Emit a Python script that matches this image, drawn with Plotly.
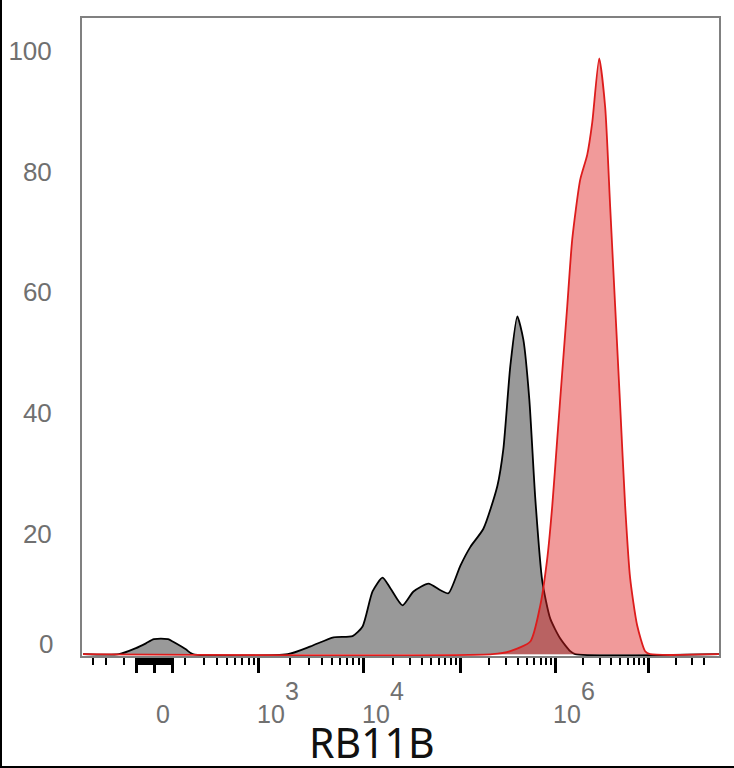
import numpy as np
import plotly.graph_objects as go

# histogram data, x in display channels of the biexponential scale, y in % of max
GRAY_X = [0, 36, 53, 63, 71, 85, 93, 103, 110,
          205, 228, 251, 270, 280, 290, 300, 308, 320, 331, 346, 358, 366,
          378, 388, 401, 415, 421, 428, 435, 441, 447, 453, 460, 468, 478,
          488, 493, 637]
GRAY_Y = [0, 0, 1.0, 1.8, 2.5, 2.5, 1.8, 0.8, 0,
          0, 1.3, 2.8, 3.0, 4.6, 10.4, 12.7, 10.9, 8.1, 10.4, 11.7, 10.6, 10.1,
          14.7, 17.8, 20.8, 27.9, 34.0, 47.8, 56.0, 52.2, 42.3, 25.8, 12.1, 5.9, 2.6,
          0.5, 0, 0]

RED_X = [0, 410, 428, 448, 458, 465, 470, 475, 480, 485, 490, 498, 505, 510,
         517, 523, 528, 533, 538, 543, 548, 555, 563, 568, 637]
RED_Y = [0, 0, 0.5, 2.1, 8.1, 15.9, 24.6, 35.7, 46.8, 57.7, 68.8, 78.7, 82.8, 88.1,
         98.8, 90.7, 74.2, 57.7, 41.2, 24.6, 12.6, 4.8, 0.5, 0, 0]

# axis scale
ZERO_POS = 72
DECADE_EXP = [3, 4, 5, 6, 7]
DECADE_POS = [176, 281, 378, 473, 566]
LABELED_EXP = [3, 4, 6]
Y_TICKS = [20, 40, 60, 80, 100]
X_TITLE = "RB11B"


def minor_ticks():
    """log spaced minor ticks between decades plus the linear cluster at zero."""
    ticks = []
    first_w = DECADE_POS[1] - DECADE_POS[0]
    for m in range(2, 10):
        ticks.append(DECADE_POS[0] - (1 - np.log10(m)) * first_w)
    for k in range(len(DECADE_POS) - 1):
        w = DECADE_POS[k + 1] - DECADE_POS[k]
        for m in range(2, 10):
            ticks.append(DECADE_POS[k] + np.log10(m) * w)
    last_w = DECADE_POS[-1] - DECADE_POS[-2]
    for m in range(2, 5):
        ticks.append(DECADE_POS[-1] + np.log10(m) * last_w)
    # negative side, mirrored
    for m in range(2, 5):
        p = DECADE_POS[0] - (1 - np.log10(m)) * first_w
        ticks.append(2 * ZERO_POS - p)
    # linear region around zero
    for v in range(-90, 91, 10):
        ticks.append(ZERO_POS + v * 0.18)
    return ticks


major_ticks = DECADE_POS + [ZERO_POS - 18, ZERO_POS, ZERO_POS + 18]

fig = go.Figure()

fig.add_trace(go.Scatter(
    x=GRAY_X, y=GRAY_Y, mode='lines', fill='tozeroy',
    fillcolor='#999999',
    line=dict(color='black', width=1.8, shape='spline', smoothing=0.6),
    showlegend=False,
))
fig.add_trace(go.Scatter(
    x=RED_X, y=RED_Y, mode='lines', fill='tozeroy',
    fillcolor='rgba(225,30,30,0.45)',
    line=dict(color='#dd1c1c', width=1.8, shape='spline', smoothing=0.6),
    showlegend=False,
))

tick_font = dict(family='Liberation Sans, Arial', size=25, color='#707070')
annotations = []
# x labels: 0 and 10^k
annotations.append(dict(x=ZERO_POS, y=0, xref='x', yref='paper', text='0',
                        showarrow=False, xanchor='center', yanchor='middle',
                        xshift=8, yshift=-58, font=tick_font))
for e in LABELED_EXP:
    pos = DECADE_POS[DECADE_EXP.index(e)]
    annotations.append(dict(x=pos, y=0, xref='x', yref='paper', text='10',
                            showarrow=False, xanchor='left', yanchor='middle',
                            xshift=-4, yshift=-58, font=tick_font))
    annotations.append(dict(x=pos, y=0, xref='x', yref='paper', text=str(e),
                            showarrow=False, xanchor='left', yanchor='middle',
                            xshift=24, yshift=-35, font=tick_font))
# y label for zero sits a bit above the baseline
annotations.append(dict(x=0, y=0, xref='paper', yref='y', text='0',
                        showarrow=False, xanchor='right', yanchor='middle',
                        xshift=-27, yshift=10,
                        font=dict(family='Liberation Sans, Arial', size=26, color='#707070')))
annotations.append(dict(x=0.4553, y=0, xref='paper', yref='paper', text=X_TITLE,
                        showarrow=False, xanchor='center', yanchor='middle',
                        yshift=-86, font=dict(family='Noto Sans', size=41, color='#111111')))

fig.update_layout(
    width=734, height=768,
    margin=dict(l=82, r=15, t=18, b=112),
    paper_bgcolor='white', plot_bgcolor='white',
    annotations=annotations,
    shapes=[
        dict(type='line', xref='paper', yref='paper',
             x0=(1 - 82) / 637, x1=(1 - 82) / 637, y0=-112 / 638, y1=768 / 638 - 112 / 638,
             line=dict(color='black', width=2)),
        dict(type='line', xref='paper', yref='paper',
             x0=-82 / 637, x1=1 + 15 / 637, y0=(656 - 767) / 638, y1=(656 - 767) / 638,
             line=dict(color='black', width=2)),
    ],
)

fig.update_xaxes(
    range=[-1, 637], showgrid=False, zeroline=False, automargin=False,
    showline=True, mirror=True, linecolor='#808080', linewidth=2,
    tickmode='array', tickvals=major_ticks, showticklabels=False,
    ticks='outside', ticklen=15, tickwidth=3, tickcolor='black',
    minor=dict(tickmode='array', tickvals=minor_ticks(), ticks='outside',
               ticklen=7, tickwidth=1.5, tickcolor='black', showgrid=False),
)
fig.update_yaxes(
    range=[-0.3, 105.5], showgrid=False, zeroline=False, automargin=False,
    showline=True, mirror=True, linecolor='#808080', linewidth=2,
    tickmode='array', tickvals=Y_TICKS, ticks='',
    tickfont=dict(family='Liberation Sans, Arial', size=26, color='#707070'),
    ticklabelstandoff=23,
)

# drop the default page margin so the figure sits at the window's corner
fig.write_html("out.html", config={'displayModeBar': False},
               post_script="document.body.style.margin='0';")
